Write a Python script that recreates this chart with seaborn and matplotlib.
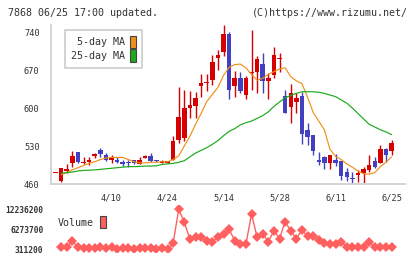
"""
7868 daily candles with 5/25-day MA and volume (rizumu style)
"""

import numpy as np
import matplotlib
matplotlib.use('Agg')
import matplotlib.pyplot as plt
from matplotlib.patches import Patch
import seaborn as sns

# OHLC per trading day (index 0..60)
opens = [480, 466, 484, 499, 519, 499, 500, 511, 523, 513,
         505, 505, 501, 501, 504, 497, 508, 511, 504, 499,
         499, 504, 541, 544, 600, 604, 640, 645.5, 652, 693,
         704, 736, 641, 655, 624, 665, 667, 681, 650, 661,
         690, 622, 602, 610.5, 622, 559, 550, 504, 510, 498,
         504, 502, 482.5, 470, 477, 480, 486, 502, 499, 524,
         520]
highs = [480, 490, 496, 520, 519, 510, 510, 518, 526, 518,
         513, 510, 504, 505, 505, 510, 513, 517, 505, 504,
         503, 548, 639, 633, 632, 630, 662, 662, 697, 707,
         753, 740, 668, 667, 659, 744, 696, 701, 664, 712,
         701, 633, 644, 627, 630, 572, 550, 519, 512, 513,
         515, 502, 489, 482, 486, 491, 513, 510, 532, 527,
         541]
lows = [480, 464, 480, 492, 498, 497, 495, 507, 510, 503,
        499, 499, 493, 491, 496, 497, 508, 501, 500, 499,
        498, 504, 535, 540, 582, 582, 621, 632, 642, 670,
        696, 617, 621, 628, 617, 633, 628, 627, 617, 655,
        667, 590, 573, 591, 534, 532, 513, 495, 487, 487,
        493, 468, 465, 458, 464, 462, 483, 489, 498, 501,
        513]
closes = [480, 489.5, 487, 511, 501, 501, 504, 515, 515, 505,
          508, 501, 496, 499, 498, 504, 511.5, 503, 501.5, 503,
          503, 539, 584, 600, 606, 618, 646, 648.5, 684, 698,
          736, 633, 655, 632, 656, 667, 690, 650, 655, 697,
          692.5, 591, 627, 618.5, 553, 547, 520, 501, 498, 513,
          498, 475, 473.5, 469, 481, 487, 495, 492, 524, 513,
          536]

ma5 = [np.nan, 477, 481, 486, 490, 494, 498, 501, 505, 508,
       509, 509, 509, 505, 501, 499, 499, 500, 500, 501,
       501, 505, 512, 530, 548, 570, 590, 612, 625, 638,
       660, 675, 680, 681, 674, 662, 651, 655, 662, 667,
       672, 674, 658, 650, 645, 620, 592, 576, 560, 524,
       511, 505, 497, 491, 484, 479, 478, 481, 492, 500,
       510]
ma25 = [np.nan, 480, 481, 482, 484, 485, 485.5, 486, 487, 488,
        489, 490, 491, 492, 492, 492.5, 493, 493, 493.5, 496,
        497, 498, 500, 503, 510, 517, 522, 527, 533, 540,
        549, 557, 562, 569, 573, 576, 581, 586, 593, 603,
        611, 619, 623, 627, 630, 630, 630, 629, 627, 624,
        621, 615, 609, 600, 590, 580, 570, 565, 560, 556,
        551]

volume = [np.nan,
          900000, 900000, 2800000, 900000, 610000, 610000, 610000, 900000, 610000, 900000,
          311200, 610000, 610000, 311200, 610000, 610000, 610000, 311200, 610000, 311200,
          2100000, 12236200, 8360000, 3290000, 3890000, 3890000, 2900000, 2600000, 3890000, 4880000,
          6270000, 2900000, 1800000, 1800000, 10850000, 3890000, 4880000, 2600000, 5880000, 3490000,
          8560000, 5780000, 3490000, 6080000, 4190000, 4190000, 3190000, 2100000, 1800000, 1800000,
          2600000, 1100000, 1100000, 900000, 1100000, 2600000, 900000, 1100000, 900000, 900000]

date_labels = ['4/10', '4/24', '5/14', '5/28', '6/11', '6/25']
date_idx = [10, 20, 30, 40, 50, 60]
price_ticks = [460, 530, 600, 670, 740]
vol_ticks = [311200, 6273700, 12236200]

RED = '#d60000'
BLUE = '#4040c0'
ORANGE = '#f0901a'
GREEN = '#1aaa1a'
VOLC = '#ff5f5f'
GRID = '#d4d4d4'
TXT = '#333333'

sns.set_style('white')
plt.rcParams['font.family'] = ['DejaVu Sans Mono']

fig = plt.figure(figsize=(4.2, 2.59), dpi=100)
ax = fig.add_axes([50.7 / 420, 75 / 259, 354.3 / 420, 159 / 259])
axv = fig.add_axes([50.7 / 420, 7 / 259, 354.3 / 420, 47 / 259])

x = np.arange(len(closes))
o = np.array(opens, dtype=float)
c = np.array(closes, dtype=float)
up = c >= o
cols = np.where(up, RED, BLUE)

# wicks then bodies
ax.vlines(x, lows, highs, colors=cols, lw=1.0, zorder=2)
bottom = np.minimum(o, c)
height = np.maximum(np.abs(c - o), 1.6)
ax.bar(x, height, bottom=bottom, width=0.8, color=cols, lw=0, zorder=3)

sns.lineplot(x=x, y=ma5, ax=ax, color=ORANGE, lw=0.85, zorder=4)
sns.lineplot(x=x, y=ma25, ax=ax, color=GREEN, lw=0.85, zorder=4)

xmin, xmax = -0.857, 62.4
ax.set_xlim(xmin, xmax)
ax.set_ylim(460, 753)
ax.set_xlabel('')
ax.set_ylabel('')
ax.set_yticks(price_ticks)
ax.set_yticklabels([str(t) for t in price_ticks], fontsize=6.2, color=TXT)
ax.set_xticks(np.linspace(xmin, xmax, 12))
ax.set_xticklabels([])
ax.set_xticks(date_idx, minor=True)
ax.set_xticklabels(date_labels, minor=True, fontsize=6.2, color=TXT)
ax.tick_params(axis='x', which='major', direction='inout', length=6,
               width=1.4, color=GRID)
ax.tick_params(axis='x', which='minor', length=0, pad=6.5)
ax.tick_params(axis='y', direction='out', length=3.6, width=1.4,
               color=GRID, pad=4.3)
for s in ['top', 'right']:
    ax.spines[s].set_visible(False)
for s in ['left', 'bottom']:
    ax.spines[s].set_color(GRID)
    ax.spines[s].set_linewidth(1.4)

handles = [Patch(facecolor=ORANGE, edgecolor='#444444', lw=0.8),
           Patch(facecolor=GREEN, edgecolor='#444444', lw=0.8)]
leg = ax.legend(handles, ['5-day MA', '25-day MA'], loc='upper left',
                bbox_to_anchor=(0.04, 0.969), borderaxespad=0,
                markerfirst=False, fontsize=7.2, handlelength=0.65,
                handleheight=1.5, handletextpad=0.5, labelspacing=0.12,
                borderpad=0.6, fancybox=False, framealpha=1,
                edgecolor='#cccccc', labelcolor=TXT)
leg.get_frame().set_linewidth(1.2)

# volume panel
sns.lineplot(x=x, y=volume, ax=axv, color=VOLC, lw=1.0, marker='D',
             markersize=5, markeredgewidth=0, zorder=3)
axv.set_xlim(xmin, xmax)
axv.set_ylim(-494000, 13518000)
axv.set_xticks([])
axv.set_yticks(vol_ticks)
axv.set_yticklabels([str(t) for t in vol_ticks], fontsize=5.7,
                    color=TXT, fontweight='bold')
axv.tick_params(axis='y', length=0, pad=5.3)
axv.set_xlabel('')
axv.set_ylabel('')
for s in axv.spines.values():
    s.set_visible(False)
vleg = axv.legend([Patch(facecolor=VOLC, edgecolor='#444444', lw=0.8)],
                  ['Volume'], loc='center left', bbox_to_anchor=(0.0, 0.63),
                  markerfirst=False, frameon=False, fontsize=7.2,
                  handlelength=0.6, handleheight=1.5, handletextpad=0.6,
                  borderpad=0.2, labelcolor=TXT)

fig.text(8 / 420, 1 - 12.5 / 259, '7868 06/25 17:00 updated.', fontsize=7.2,
         color=TXT, ha='left', va='center')
fig.text(408 / 420, 1 - 12.5 / 259, '(C)https://www.rizumu.net/', fontsize=7.2,
         color=TXT, ha='right', va='center')

fig.savefig('out.png', dpi=100)
